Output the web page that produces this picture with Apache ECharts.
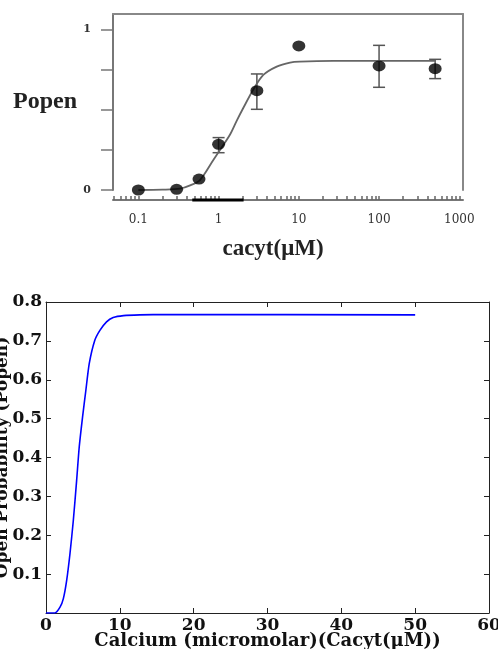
<!DOCTYPE html>
<html>
<head>
<meta charset="utf-8">
<script src="https://cdn.jsdelivr.net/npm/echarts@6/dist/echarts.min.js"></script>
<style>
  html, body { margin: 0; padding: 0; background: #fff; }
  #main { width: 498px; height: 649px; }
</style>
</head>
<body>
<div id="main"></div>
<script>
// top panel: measured points (log x axis)
var cacytPts = [0.1, 0.3, 0.57, 1, 3, 10, 100, 500];
var popenPts = [0, 0.004, 0.068, 0.284, 0.618, 0.896, 0.772, 0.755];
var errLow = [null, null, null, 0.232, 0.502, null, 0.639, 0.693];
var errHigh = [null, null, null, 0.326, 0.722, null, 0.900, 0.813];

// top panel: fitted curve
var fitX = [0.1, 0.2, 0.33, 0.45, 0.586, 0.86, 1.01, 1.39, 1.68, 2.03, 2.71, 3.61, 5.3, 7.77, 10.3, 27, 100, 500];
var fitY = [0, 0.002, 0.008, 0.03, 0.062, 0.187, 0.239, 0.345, 0.43, 0.51, 0.625, 0.716, 0.768, 0.793, 0.799, 0.803, 0.803, 0.803];

// thick dark segment on the top x axis
var thickBar = [0.47, 2.05];

var logMajor = [0.1, 1, 10, 100, 1000];
var logTicks = [0.05, 0.06, 0.07, 0.08, 0.09, 0.1, 0.2, 0.3, 0.4, 0.5, 0.6, 0.7, 0.8, 0.9,
  1, 2, 3, 4, 5, 6, 7, 8, 9, 10, 20, 30, 40, 50, 60, 70, 80, 90,
  100, 200, 300, 400, 500, 600, 700, 800, 900, 1000];

// bottom panel: model curve
var calcium = [0, 1.2, 1.9, 2.35, 2.8, 3.25, 3.7, 4.15, 4.5, 4.95, 5.4, 5.85, 6.6, 7.3, 8.2, 9.1, 10.5, 12.7, 16.3, 50];
var openProb = [0, 0, 0.015, 0.037, 0.084, 0.153, 0.238, 0.341, 0.427, 0.504, 0.573, 0.641, 0.701, 0.727, 0.749, 0.760, 0.765, 0.767, 0.768, 0.767];

var topPts = cacytPts.map(function (x, i) { return [x, popenPts[i]]; });
var topErr = [];
cacytPts.forEach(function (x, i) {
  if (errLow[i] != null) topErr.push([x, errLow[i], errHigh[i]]);
});
var topFit = fitX.map(function (x, i) { return [x, fitY[i]]; });
var bottomCurve = calcium.map(function (x, i) { return [x, openProb[i]]; });

var xMinLog = 0.0483, xMaxLog = 1112;
var yTopMax = 1.095;
var barY = -0.062;

var chart = echarts.init(document.getElementById('main'));
chart.setOption({
  animation: false,
  backgroundColor: '#fff',
  grid: [
    { left: 113, right: 35, top: 14, bottom: 459, outerBoundsMode: 'none' },
    { left: 46, right: 9, top: 302, bottom: 36, outerBoundsMode: 'none' }
  ],
  xAxis: [
    {
      gridIndex: 0, type: 'log', min: xMinLog, max: xMaxLog, position: 'bottom', offset: 10,
      name: 'cacyt(μM)', nameLocation: 'middle', nameGap: 38, nameMoveOverlap: false,
      nameTextStyle: { fontFamily: 'Liberation Serif', fontWeight: 'bold', fontSize: 23, color: '#222', padding: [0, 30, 0, 0] },
      axisLine: { onZero: false, lineStyle: { color: '#777', width: 2 } },
      axisTick: { inside: true, length: 4, customValues: logTicks, lineStyle: { color: '#666', width: 1.5 } },
      axisLabel: { customValues: logMajor, margin: 14, fontFamily: 'DejaVu Serif', fontSize: 12, color: '#333',
        formatter: function (v) { return String(v); } },
      splitLine: { show: false }
    },
    {
      gridIndex: 0, type: 'log', min: xMinLog, max: xMaxLog, position: 'top',
      axisLine: { onZero: false, lineStyle: { color: '#888', width: 2 } },
      axisTick: { show: false }, axisLabel: { show: false }, splitLine: { show: false }
    },
    {
      gridIndex: 1, type: 'value', min: 0, max: 60, interval: 10, position: 'bottom',
      name: 'Calcium (micromolar)(Cacyt(μM))', nameLocation: 'middle', nameGap: 19, nameMoveOverlap: false,
      nameTextStyle: { fontFamily: 'DejaVu Serif', fontWeight: 'bold', fontSize: 18, color: '#111' },
      axisLine: { onZero: false, lineStyle: { color: '#222', width: 1 } },
      axisTick: { inside: true, length: 5, lineStyle: { color: '#222' } },
      axisLabel: { margin: 4, fontFamily: 'DejaVu Serif', fontWeight: 'bold', fontSize: 17, color: '#111' },
      splitLine: { show: false }
    },
    {
      gridIndex: 1, type: 'value', min: 0, max: 60, interval: 10, position: 'top',
      axisLine: { onZero: false, lineStyle: { color: '#222', width: 1 } },
      axisTick: { inside: true, length: 5, lineStyle: { color: '#222' } },
      axisLabel: { show: false }, splitLine: { show: false }
    }
  ],
  yAxis: [
    {
      gridIndex: 0, type: 'value', min: 0, max: yTopMax, position: 'left',
      name: 'Popen', nameLocation: 'middle', nameRotate: 0, nameGap: 36, nameMoveOverlap: false,
      nameTextStyle: { fontFamily: 'Liberation Serif', fontWeight: 'bold', fontSize: 24, color: '#222' },
      axisLine: { onZero: false, lineStyle: { color: '#777', width: 2 } },
      axisTick: { inside: false, length: 12, customValues: [0, 0.25, 0.5, 0.75, 1], lineStyle: { color: '#777', width: 1.5 } },
      axisLabel: { customValues: [0, 1], margin: 22, fontFamily: 'DejaVu Serif', fontWeight: 'bold', fontSize: 11, color: '#333' },
      splitLine: { show: false }
    },
    {
      gridIndex: 0, type: 'value', min: 0, max: yTopMax, position: 'right',
      axisLine: { onZero: false, lineStyle: { color: '#888', width: 2 } },
      axisTick: { show: false }, axisLabel: { show: false }, splitLine: { show: false }
    },
    {
      gridIndex: 1, type: 'value', min: 0, max: 0.8, interval: 0.1, position: 'left',
      name: 'Open Probability (Popen)', nameLocation: 'middle', nameRotate: 90, nameGap: 35, nameMoveOverlap: false,
      nameTextStyle: { fontFamily: 'DejaVu Serif', fontWeight: 'bold', fontSize: 17, color: '#111' },
      axisLine: { onZero: false, lineStyle: { color: '#222', width: 1 } },
      axisTick: { inside: true, length: 5, lineStyle: { color: '#222' } },
      axisLabel: { margin: 4, fontFamily: 'DejaVu Serif', fontWeight: 'bold', fontSize: 17, color: '#111',
        formatter: function (v) { return v === 0 ? '' : v.toFixed(1); } },
      splitLine: { show: false }
    },
    {
      gridIndex: 1, type: 'value', min: 0, max: 0.8, interval: 0.1, position: 'right',
      axisLine: { onZero: false, lineStyle: { color: '#222', width: 1 } },
      axisTick: { inside: true, length: 5, lineStyle: { color: '#222' } },
      axisLabel: { show: false }, splitLine: { show: false }
    }
  ],
  series: [
    {
      type: 'line', xAxisIndex: 0, yAxisIndex: 0, data: topFit, smooth: 0.3,
      symbol: 'none', lineStyle: { color: '#666', width: 1.8 }
    },
    {
      type: 'custom', xAxisIndex: 0, yAxisIndex: 0, data: topErr,
      renderItem: function (params, api) {
        var lo = api.coord([api.value(0), api.value(1)]);
        var hi = api.coord([api.value(0), api.value(2)]);
        var cap = 6;
        var st = { stroke: '#555', lineWidth: 1.5 };
        return {
          type: 'group',
          children: [
            { type: 'line', shape: { x1: lo[0], y1: lo[1], x2: hi[0], y2: hi[1] }, style: st },
            { type: 'line', shape: { x1: lo[0] - cap, y1: lo[1], x2: lo[0] + cap, y2: lo[1] }, style: st },
            { type: 'line', shape: { x1: hi[0] - cap, y1: hi[1], x2: hi[0] + cap, y2: hi[1] }, style: st }
          ]
        };
      }
    },
    {
      type: 'scatter', xAxisIndex: 0, yAxisIndex: 0, data: topPts,
      symbol: 'circle', symbolSize: [13, 11], itemStyle: { color: '#000' }, z: 5
    },
    {
      type: 'line', xAxisIndex: 0, yAxisIndex: 0, clip: false,
      data: thickBar.map(function (x) { return [x, barY]; }),
      symbol: 'none', lineStyle: { color: '#000', width: 3 }
    },
    {
      type: 'line', xAxisIndex: 2, yAxisIndex: 2, data: bottomCurve, smooth: 0.2,
      symbol: 'none', lineStyle: { color: '#0000ff', width: 1.6 }
    }
  ]
});
</script>
</body>
</html>
